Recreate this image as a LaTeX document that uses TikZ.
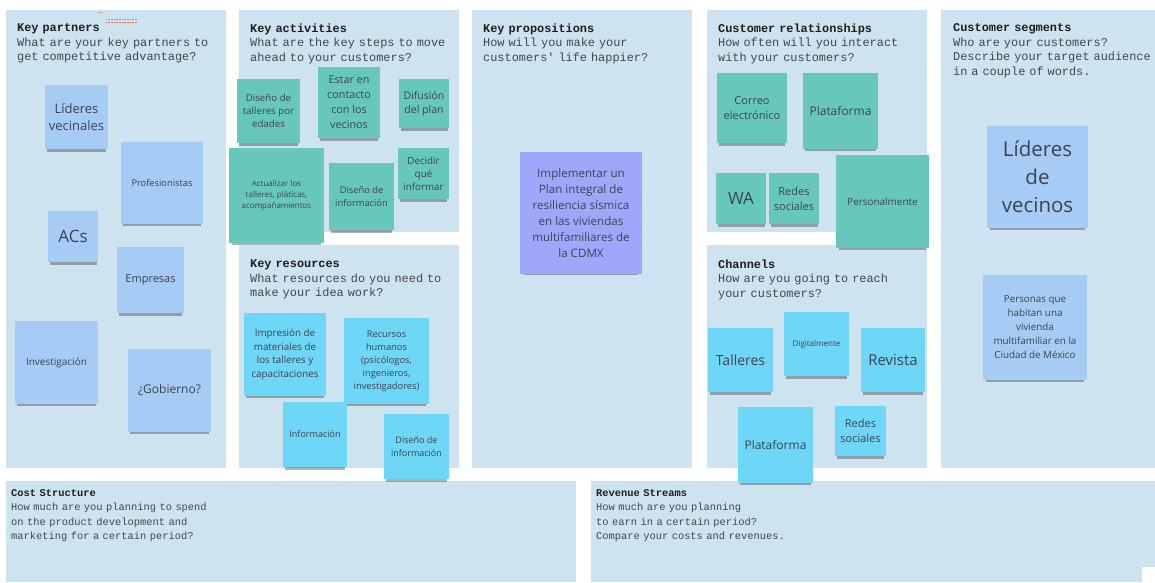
\documentclass[tikz,border=0pt]{standalone}
\usepackage{fontspec}
\setmonofont{Liberation Mono}
\newfontfamily\notefont{Open Sans}
\usepackage{tikz}
\usetikzlibrary{shadows}

\definecolor{feld}{RGB}{206,227,240}
\definecolor{blau}{RGB}{166,203,244}
\definecolor{tuerkis}{RGB}{103,199,186}
\definecolor{himmel}{RGB}{110,214,247}
\definecolor{lila}{RGB}{158,167,250}
\definecolor{notiz}{RGB}{60,68,80}
\definecolor{kopf}{RGB}{30,30,30}
\definecolor{frage}{RGB}{70,70,70}

\newcommand{\nf}[2]{\notefont\fontsize{#1}{#2}\selectfont}

\tikzset{
  feldtext/.style={anchor=north west,inner sep=0pt,align=left,text width=225pt,
    text=kopf,font=\ttfamily\fontsize{11.9}{14.5}\selectfont},
  fusstext/.style={feldtext,font=\ttfamily\fontsize{10.4}{14.2}\selectfont},
  zettel/.style={inner sep=0pt,align=center,text=notiz,
    drop shadow={shadow scale=.94,shadow xshift=0pt,shadow yshift=-5pt,opacity=.3,fill=black}},
  sz/.style 2 args={minimum width=#1pt,minimum height=#2pt},
  partner/.style={zettel,fill=blau},
  aktiv/.style={zettel,fill=tuerkis},
  ressource/.style={zettel,fill=himmel},
  angebot/.style={zettel,fill=lila}
}

\begin{document}
\begin{tikzpicture}[x=1pt,y=-1pt]
        \useasboundingbox (0,0) rectangle (1155,582);
        \fill[white] (0,0) rectangle (1155,582);

        % Felder
        \fill[feld] (6,10) rectangle (226,468);
        \fill[feld] (239,10) rectangle (459,232);
        \fill[feld] (239,245) rectangle (459,468);
        \fill[feld] (472,10) rectangle (692,468);
        \fill[feld] (707,10) rectangle (927,232);
        \fill[feld] (707,245) rectangle (927,468);
        \fill[feld] (941,10) rectangle (1155,468);
        \fill[feld] (6,481) rectangle (576,582);
        \fill[feld] (591,481) rectangle (1155,582);

        % Ueberschriften
        \node[feldtext] (kpKopf) at (17,23.5) {\textbf{Key partners}\\\color{frage}What are your key partners to\\get competitive advantage?};
        \node[feldtext] (kaKopf) at (250,23.5) {\textbf{Key activities}\\\color{frage}What are the key steps to move\\ahead to your customers?};
        \node[feldtext] (krKopf) at (250,259.5) {\textbf{Key resources}\\\color{frage}What resources do you need to\\make your idea work?};
        \node[feldtext] (vpKopf) at (483,23.5) {\textbf{Key propositions}\\\color{frage}How will you make your\\customers' life happier?};
        \node[feldtext] (crKopf) at (718,23.5) {\textbf{Customer relationships}\\\color{frage}How often will you interact\\with your customers?};
        \node[feldtext] (chKopf) at (718,259.5) {\textbf{Channels}\\\color{frage}How are you going to reach\\your customers?};
        \node[feldtext] (csKopf) at (953,23.5) {\textbf{Customer segments}\\\color{frage}Who are your customers?\\Describe your target audience\\in a couple of words.};
        \node[fusstext] (kostKopf) at (11,489.5) {\textbf{Cost Structure}\\\color{frage}How much are you planning to spend\\on the product development and\\marketing for a certain period?};
        \node[fusstext] (ertragKopf) at (596,489.5) {\textbf{Revenue Streams}\\\color{frage}How much are you planning\\to earn in a certain period?\\Compare your costs and revenues.};

        % Markierung
        \draw[red!60,dash pattern=on .8pt off .8pt] (106,19) -- (137,19) (106,22) -- (137,22);
        \draw[red!60] (98,12) -- (103,13);

        % Key partners
        \node[partner,sz={63}{64},font=\nf{13}{17}] (lidVec) at (76.5,117) {Líderes\\vecinales};
        \node[partner,sz={82}{82},font=\nf{9.3}{12}] (prof) at (162,183) {Profesionistas};
        \node[partner,sz={50}{51},font=\nf{17}{20}] (acs) at (73,236.5) {ACs};
        \node[partner,sz={67}{66},font=\nf{11}{14}] (empr) at (150.5,280) {Empresas};
        \node[partner,sz={83}{83},font=\nf{10}{13}] (invest) at (56.5,362.5) {Investigación};
        \node[partner,sz={83}{83},font=\nf{12}{15}] (gob) at (169.5,390.5) {¿Gobierno?};

        % Key activities
        \node[aktiv,sz={63}{64},font=\nf{9.7}{13}] (disTall) at (268.5,111) {Diseño de\\talleres por\\edades};
        \node[aktiv,sz={62}{71},font=\nf{10.8}{15}] (contacto) at (349,102.5) {Estar en\\contacto\\con los\\vecinos};
        \node[aktiv,sz={50}{49},font=\nf{10.5}{14}] (difusion) at (424,103.5) {Difusión\\del plan};
        \node[aktiv,sz={95}{95},font=\nf{8}{11}] (actual) at (276.5,195.5) {Actualizar los\\talleres, pláticas,\\acompañamientos};
        \node[aktiv,sz={65}{67},font=\nf{9.3}{13}] (disInfo) at (361.5,196.5) {Diseño de\\información};
        \node[aktiv,sz={51}{51},font=\nf{9.8}{13}] (decidir) at (423.5,173.5) {Decidir\\qué\\informar};

        % Key resources
        \node[ressource,sz={82}{83},font=\nf{9.8}{13.5}] (impr) at (285,354.5) {Impresión de\\materiales de\\los talleres y\\capacitaciones};
        \node[ressource,sz={85}{86},font=\nf{9.3}{13}] (recHum) at (386.5,361) {Recursos\\humanos\\(psicólogos,\\ingenieros,\\investigadores)};
        \node[ressource,sz={64}{65},font=\nf{9}{12}] (infoRes) at (315,434.5) {Información};
        \node[ressource,sz={65}{65},font=\nf{9}{12.5}] (disInfoRes) at (416.5,446.5) {Diseño de\\información};

        % Key propositions
        \node[angebot,sz={122}{122},font=\nf{11.6}{16}] (plan) at (581,213) {Implementar un\\Plan integral de\\resiliencia sísmica\\en las viviendas\\multifamiliares de\\la CDMX};

        % Customer relationships
        \node[aktiv,sz={70}{70},font=\nf{11}{15}] (correo) at (752,108) {Correo\\electrónico};
        \node[aktiv,sz={75}{76},font=\nf{12}{15}] (platCr) at (840.5,111) {Plataforma};
        \node[aktiv,sz={50}{51},font=\nf{17}{20}] (wa) at (741,198.5) {WA};
        \node[aktiv,sz={50}{51},font=\nf{11}{15}] (redesCr) at (794,198.5) {Redes\\sociales};
        \node[aktiv,sz={93}{93},font=\nf{9.9}{13}] (personal) at (882.5,201.5) {Personalmente};

        % Channels
        \node[ressource,sz={65}{64},font=\nf{14}{17}] (talleres) at (740.5,360) {Talleres};
        \node[ressource,sz={65}{64},font=\nf{8}{11}] (digital) at (816.5,344) {Digitalmente};
        \node[ressource,sz={64}{64},font=\nf{15}{18}] (revista) at (893,360) {Revista};
        \node[ressource,sz={75}{76},font=\nf{12}{15}] (platCh) at (775.5,445) {Plataforma};
        \node[ressource,sz={51}{50},font=\nf{11}{15}] (redesCh) at (860.5,431) {Redes\\sociales};

        % Customer segments
        \node[partner,sz={101}{102},font=\nf{20.5}{28}] (lidVecinos) at (1037.5,177) {Líderes\\de\\vecinos};
        \node[partner,sz={104}{105},font=\nf{9.8}{14}] (personas) at (1035,327.5) {Personas que\\habitan una\\vivienda\\multifamiliar en la\\Ciudad de México};

        % Ecke unten rechts
        \fill[white] (1141,566) rectangle (1155,582);
        \draw[black!15] (1141,582) -- (1141,566) -- (1155,566);
      \end{tikzpicture}
\end{document}
